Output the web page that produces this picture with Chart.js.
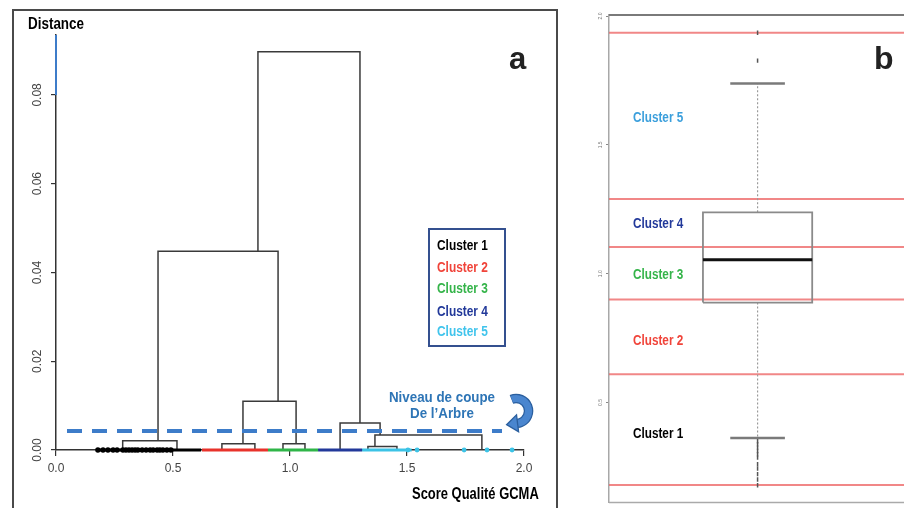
<!DOCTYPE html>
<html><head><meta charset="utf-8">
<script src="https://cdn.jsdelivr.net/npm/chart.js@4.4.0/dist/chart.umd.min.js"></script>
<style>
html,body{margin:0;padding:0;background:#fff;width:904px;height:508px;overflow:hidden;position:relative}
#frameA{position:absolute;left:12px;top:9px;width:546px;height:620px;border:2px solid #4a4a4a;box-sizing:border-box}
#cA{position:absolute;left:0;top:0}
#cB{position:absolute;left:560px;top:0}
.t{position:absolute;white-space:nowrap;font-family:"Liberation Sans",Arial,sans-serif;font-weight:bold;transform-origin:0 50%}
.c{transform-origin:50% 50%}
#legA{position:absolute;left:428px;top:228px;width:78px;height:119px;border:2px solid #34508f;box-sizing:border-box}
</style>
</head><body>
<div id="frameA"></div>
<canvas id="cA" width="560" height="508"></canvas>
<canvas id="cB" width="400" height="508"></canvas>
<div id="legA"></div>
<div class="t" style="left:28px;top:16px;font-size:16px;line-height:16px;color:#000;transform:scaleX(0.84)">Distance</div>
<div class="t" style="left:412px;top:486px;font-size:16px;line-height:16px;color:#000;transform:scaleX(0.81)">Score Qualité GCMA</div>
<div class="t" style="left:509px;top:44px;font-size:31px;line-height:30px;color:#222">a</div>
<div class="t" style="left:874px;top:43px;font-size:32px;line-height:31px;color:#222">b</div>
<div class="t c" style="left:382px;width:120px;text-align:center;top:389px;font-size:15px;line-height:15px;color:#2e75b6;transform:scaleX(0.89)">Niveau de coupe</div>
<div class="t c" style="left:382px;width:120px;text-align:center;top:405px;font-size:15px;line-height:15px;color:#2e75b6;transform:scaleX(0.89)">De l’Arbre</div>
<div class="t" style="left:437px;top:238px;font-size:14px;line-height:14px;color:#000;transform:scaleX(0.85)">Cluster 1</div>
<div class="t" style="left:437px;top:260px;font-size:14px;line-height:14px;color:#f0443a;transform:scaleX(0.85)">Cluster 2</div>
<div class="t" style="left:437px;top:281px;font-size:14px;line-height:14px;color:#35b44a;transform:scaleX(0.85)">Cluster 3</div>
<div class="t" style="left:437px;top:304px;font-size:14px;line-height:14px;color:#22399a;transform:scaleX(0.85)">Cluster 4</div>
<div class="t" style="left:437px;top:324px;font-size:14px;line-height:14px;color:#40c4ec;transform:scaleX(0.85)">Cluster 5</div>
<div class="t" style="left:633px;top:110px;font-size:14.5px;line-height:14px;color:#3b9fdc;transform:scaleX(0.81)">Cluster 5</div>
<div class="t" style="left:633px;top:216px;font-size:14.5px;line-height:14px;color:#22399a;transform:scaleX(0.81)">Cluster 4</div>
<div class="t" style="left:633px;top:267px;font-size:14.5px;line-height:14px;color:#35b44a;transform:scaleX(0.81)">Cluster 3</div>
<div class="t" style="left:633px;top:333px;font-size:14.5px;line-height:14px;color:#f0443a;transform:scaleX(0.81)">Cluster 2</div>
<div class="t" style="left:633px;top:426px;font-size:14.5px;line-height:14px;color:#000;transform:scaleX(0.81)">Cluster 1</div>
<script>
// ---------- Panel a : dendrogram ----------
const xTicksA = [0, 0.5, 1.0, 1.5, 2.0];
const yTicksA = [0, 0.02, 0.04, 0.06, 0.08];
// merges: left x, right x, merge height, heights of left/right children
const mergeLeft        = [0.285, 0.709, 0.970, 0.799, 0.436, 1.333, 1.363, 1.214, 0.863];
const mergeRight       = [0.517, 0.850, 1.064, 1.026, 0.949, 1.457, 1.820, 1.385, 1.299];
const mergeHeight      = [0.0021, 0.0014, 0.0014, 0.0110, 0.0448, 0.0008, 0.0034, 0.0061, 0.0897];
const leftChildHeight  = [0, 0, 0, 0.0014, 0.0021, 0, 0.0008, 0, 0.0448];
const rightChildHeight = [0, 0, 0, 0.0014, 0.0110, 0, 0, 0.0034, 0.0061];
// leaves (score values) per cluster
const clusterStart = [0.179, 0.624, 0.906, 1.120, 1.308];
const clusterEnd   = [0.620, 0.906, 1.120, 1.308, 1.520];
const cluster1Leaves = [0.179, 0.201, 0.222, 0.244, 0.261, 0.286, 0.299, 0.312, 0.325, 0.338, 0.350, 0.368, 0.385, 0.402, 0.415, 0.432, 0.444, 0.457, 0.474, 0.491];
const cluster5Leaves = [1.504, 1.543, 1.744, 1.842, 1.949];
const cutHeight = [0.0043];
const cutRange = [0.047, 1.906];
const axisExtension = [0.080, 0.0935];
const arrowAnchor = [1.966, 0.0088];

const clusterColors = ['#000000', '#e8322b', '#2fb548', '#22399a', '#3cc3e6'];

const dsA = [];
for (let i = 0; i < mergeHeight.length; i++) {
  dsA.push({
    data: [{x: mergeLeft[i], y: leftChildHeight[i]}, {x: mergeLeft[i], y: mergeHeight[i]},
           {x: mergeRight[i], y: mergeHeight[i]}, {x: mergeRight[i], y: rightChildHeight[i]}],
    showLine: true, borderColor: '#3a3a3a', borderWidth: 1.5, pointRadius: 0, order: 4, clip: false
  });
}
for (let c = 0; c < clusterStart.length; c++) {
  dsA.push({
    data: [{x: clusterStart[c], y: 0}, {x: clusterEnd[c], y: 0}],
    showLine: true, borderColor: clusterColors[c], borderWidth: 3.2, pointRadius: 0, order: 2, clip: false
  });
}
dsA.push({data: cluster1Leaves.map(v => ({x: v, y: 0})), showLine: false, pointRadius: 2.7,
  pointBackgroundColor: '#000', pointBorderWidth: 0, order: 1, clip: false});
dsA.push({data: cluster5Leaves.map(v => ({x: v, y: 0})), showLine: false, pointRadius: 2.4,
  pointBackgroundColor: '#3cc3e6', pointBorderWidth: 0, order: 1, clip: false});
dsA.push({data: [{x: cutRange[0], y: cutHeight[0]}, {x: cutRange[1], y: cutHeight[0]}],
  showLine: true, borderColor: '#3d7cc9', borderWidth: 4, borderDash: [15, 10], pointRadius: 0, order: 0, clip: false});
dsA.push({data: [{x: 0, y: axisExtension[0]}, {x: 0, y: axisExtension[1]}],
  showLine: true, borderColor: '#3d7cc9', borderWidth: 2, pointRadius: 0, order: 0, clip: false});

const arrowPlugin = {
  id: 'arrow',
  afterDatasetsDraw(chart) {
    const {ctx, scales: {x, y}} = chart;
    const cx = x.getPixelForValue(arrowAnchor[0]), cy = y.getPixelForValue(arrowAnchor[1]);
    const r = 12.5, a0 = -1.95, a1 = 1.45;
    ctx.save();
    ctx.lineCap = 'butt';
    ctx.strokeStyle = '#2b5f9e'; ctx.lineWidth = 9.5;
    ctx.beginPath(); ctx.arc(cx, cy, r, a0, a1); ctx.stroke();
    ctx.strokeStyle = '#4a86cf'; ctx.lineWidth = 7;
    ctx.beginPath(); ctx.arc(cx, cy, r, a0 + 0.03, a1); ctx.stroke();
    const ex = cx + r * Math.cos(a1), ey = cy + r * Math.sin(a1);
    const tx = -Math.sin(a1), ty = Math.cos(a1);
    const nx = Math.cos(a1), ny = Math.sin(a1);
    ctx.fillStyle = '#4a86cf'; ctx.strokeStyle = '#2b5f9e'; ctx.lineWidth = 1.3;
    ctx.beginPath();
    ctx.moveTo(ex + tx * 11, ey + ty * 11);
    ctx.lineTo(ex + nx * 8.5, ey + ny * 8.5);
    ctx.lineTo(ex - nx * 8.5, ey - ny * 8.5);
    ctx.closePath(); ctx.fill(); ctx.stroke();
    ctx.restore();
  }
};

new Chart(document.getElementById('cA'), {
  type: 'scatter',
  data: {datasets: dsA},
  options: {
    responsive: false, animation: false, devicePixelRatio: 1,
    layout: {padding: {top: 35, right: 36, left: 0, bottom: 0}},
    plugins: {legend: {display: false}, tooltip: {enabled: false}},
    scales: {
      x: {
        type: 'linear', min: 0, max: 2.0,
        afterBuildTicks: s => { s.ticks = xTicksA.map(v => ({value: v})); },
        afterFit: s => { s.height = 58; },
        grid: {display: true, drawOnChartArea: false, drawTicks: true, tickLength: 6, color: '#333', lineWidth: 1.2},
        border: {display: true, color: '#333', width: 1.5},
        ticks: {padding: 5, color: '#444', font: {family: 'Liberation Sans, Arial', size: 12}, callback: v => Number(v).toFixed(1), maxRotation: 0}
      },
      y: {
        type: 'linear', min: 0, max: 0.0935,
        afterBuildTicks: s => { s.ticks = yTicksA.map(v => ({value: v})); },
        afterFit: s => { s.width = 56; },
        grid: {display: true, drawOnChartArea: false, drawTicks: true, tickLength: 5, color: '#333', lineWidth: 1.2},
        border: {display: true, color: '#333', width: 1.5},
        ticks: {padding: 2, color: '#444', font: {family: 'Liberation Sans, Arial', size: 12}, minRotation: 90, maxRotation: 90, crossAlign: 'center', callback: v => Number(v).toFixed(2)}
      }
    }
  },
  plugins: [arrowPlugin]
});

// ---------- Panel b : boxplot ----------
const yTicksB = [0.5, 1.0, 1.5, 2.0];
const boxFiveNumbers = [0.362, 0.888, 1.054, 1.238, 1.738]; // low whisker, Q1, median, Q3, high whisker
const boxOutliers = [0.179, 0.201, 0.222, 0.244, 0.261, 0.286, 0.299, 0.312, 0.325, 0.338, 0.350, 1.827, 1.935];
const clusterCuts = [0.180, 0.610, 0.900, 1.104, 1.290, 1.935];
const boxCenter = [1.0];

const [wLo, q1, med, q3, wHi] = boxFiveNumbers;
const bc = boxCenter[0], bw = 0.2, cw = 0.1;
const dsB = [];
clusterCuts.forEach(c => dsB.push({data: [{x: 0.456, y: c}, {x: 1.721, y: c}], showLine: true,
  borderColor: 'rgba(236,95,95,0.75)', borderWidth: 2, pointRadius: 0, order: 5}));
dsB.push({data: [{x: bc - bw, y: q1}, {x: bc + bw, y: q1}, {x: bc + bw, y: q3}, {x: bc - bw, y: q3}, {x: bc - bw, y: q1}],
  showLine: true, borderColor: '#8a8a8a', borderWidth: 1.8, pointRadius: 0, order: 2});
dsB.push({data: [{x: bc - bw, y: med}, {x: bc + bw, y: med}], showLine: true, borderColor: '#111', borderWidth: 3, pointRadius: 0, order: 1});
dsB.push({data: [{x: bc, y: q3}, {x: bc, y: wHi}], showLine: true, borderColor: '#9a9a9a', borderWidth: 1.2, borderDash: [2, 2], pointRadius: 0, order: 3});
dsB.push({data: [{x: bc, y: q1}, {x: bc, y: wLo}], showLine: true, borderColor: '#9a9a9a', borderWidth: 1.2, borderDash: [2, 2], pointRadius: 0, order: 3});
dsB.push({data: [{x: bc - cw, y: wHi}, {x: bc + cw, y: wHi}], showLine: true, borderColor: '#7a7a7a', borderWidth: 2.5, pointRadius: 0, order: 2});
dsB.push({data: [{x: bc - cw, y: wLo}, {x: bc + cw, y: wLo}], showLine: true, borderColor: '#7a7a7a', borderWidth: 2.5, pointRadius: 0, order: 2});
dsB.push({data: boxOutliers.map(v => ({x: bc, y: v})), showLine: false, pointStyle: 'line', rotation: 90,
  pointRadius: 2.2, pointBorderColor: '#555', pointBorderWidth: 1.5, order: 1});

const frameB = {
  id: 'frameB',
  afterDraw(chart) {
    const {ctx, chartArea: a} = chart;
    ctx.save(); ctx.strokeStyle = '#7a7a7a'; ctx.lineWidth = 2;
    ctx.beginPath(); ctx.moveTo(a.left, a.top); ctx.lineTo(a.right, a.top); ctx.stroke();
    ctx.strokeStyle = '#aaa'; ctx.lineWidth = 1.5;
    ctx.beginPath(); ctx.moveTo(a.left, a.bottom); ctx.lineTo(a.right, a.bottom); ctx.stroke();
    ctx.restore();
  }
};

new Chart(document.getElementById('cB'), {
  type: 'scatter',
  data: {datasets: dsB},
  options: {
    responsive: false, animation: false, devicePixelRatio: 1,
    layout: {padding: {top: 15, right: 0, left: 0, bottom: 1}},
    plugins: {legend: {display: false}, tooltip: {enabled: false}},
    scales: {
      x: {type: 'linear', min: 0.456, max: 1.721, display: false},
      y: {
        type: 'linear', min: 0.112, max: 2.004,
        afterBuildTicks: s => { s.ticks = yTicksB.map(v => ({value: v})); },
        afterFit: s => { s.width = 49; },
        grid: {display: true, drawOnChartArea: false, drawTicks: true, tickLength: 3, color: '#888', lineWidth: 1},
        border: {display: true, color: '#a8a8a8', width: 1.5},
        ticks: {padding: 2, color: '#777', font: {family: 'Liberation Sans, Arial', size: 5}, minRotation: 90, maxRotation: 90, crossAlign: 'center', callback: v => Number(v).toFixed(1)}
      }
    }
  },
  plugins: [frameB]
});
</script>
</body></html>
